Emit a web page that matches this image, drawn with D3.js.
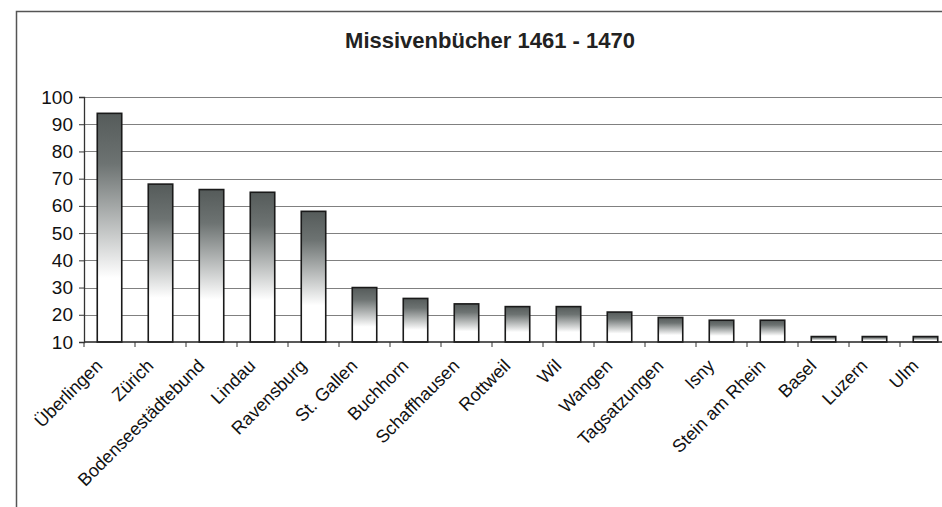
<!DOCTYPE html>
<html>
<head>
<meta charset="utf-8">
<script src="https://cdn.jsdelivr.net/npm/d3@7"></script>
<style>
  body { margin: 0; background: #fff; }
  svg { display: block; font-family: Arial, 'Liberation Sans', sans-serif; }
</style>
</head>
<body>
<svg id="chart" width="942" height="507"></svg>
<script>
const title = 'Missivenbücher 1461 - 1470';
const categories = ['Überlingen', 'Zürich', 'Bodenseestädtebund', 'Lindau', 'Ravensburg',
  'St. Gallen', 'Buchhorn', 'Schaffhausen', 'Rottweil', 'Wil', 'Wangen', 'Tagsatzungen',
  'Isny', 'Stein am Rhein', 'Basel', 'Luzern', 'Ulm'];
const values = [94, 68, 66, 65, 58, 30, 26, 24, 23, 23, 21, 19, 18, 18, 12, 12, 12];
const yTicks = [10, 20, 30, 40, 50, 60, 70, 80, 90, 100];

const width = 942, height = 507;
// the plot area runs a little past the right edge of the scan
const margin = { top: 97, right: -9, bottom: 165, left: 84 };

const svg = d3.select('#chart');

// frame of the scanned chart
svg.append('path')
  .attr('d', `M16.5,${height} V11.5 H${width}`)
  .attr('fill', 'none')
  .attr('stroke', '#555')
  .attr('stroke-width', 1.5);

svg.append('text')
  .attr('x', 490)
  .attr('y', 48)
  .attr('text-anchor', 'middle')
  .attr('font-size', '22px')
  .attr('font-weight', 'bold')
  .attr('fill', '#222')
  .text(title);

const x = d3.scaleBand()
  .domain(categories)
  .range([margin.left, width - margin.right])
  .paddingInner(0.52)
  .paddingOuter(0.26);

const y = d3.scaleLinear()
  .domain([10, 100])
  .range([height - margin.bottom, margin.top]);

const defs = svg.append('defs');
const grad = defs.append('linearGradient')
  .attr('id', 'barGrad')
  .attr('x1', 0).attr('y1', 0).attr('x2', 0).attr('y2', 1);
grad.append('stop').attr('offset', '0%').attr('stop-color', '#555b5a');
grad.append('stop').attr('offset', '22%').attr('stop-color', '#6d7372');
grad.append('stop').attr('offset', '72%').attr('stop-color', '#ffffff');
grad.append('stop').attr('offset', '100%').attr('stop-color', '#ffffff');

// gridlines
svg.append('g')
  .selectAll('line')
  .data(yTicks.slice(1))
  .join('line')
  .attr('x1', margin.left)
  .attr('x2', width)
  .attr('y1', (d) => Math.round(y(d)) + 0.5)
  .attr('y2', (d) => Math.round(y(d)) + 0.5)
  .attr('stroke', '#808080')
  .attr('stroke-width', 1.2);

// bars
svg.append('g')
  .selectAll('rect')
  .data(values)
  .join('rect')
  .attr('x', (d, i) => x(categories[i]))
  .attr('y', (d) => y(d))
  .attr('width', x.bandwidth())
  .attr('height', (d) => y(10) - y(d))
  .attr('fill', 'url(#barGrad)')
  .attr('stroke', '#1a1a1a')
  .attr('stroke-width', 1.6);

// y axis
const yAxis = (g) =>
  g
    .attr('transform', `translate(${margin.left},0)`)
    .call(d3.axisLeft(y).tickValues(yTicks).tickSize(5).tickPadding(6))
    .call((g) => g.select('.domain').attr('stroke', '#333').attr('stroke-width', 1.3))
    .call((g) => g.selectAll('.tick line').attr('stroke', '#333'))
    .call((g) => g.selectAll('.tick text')
      .attr('font-size', '19px')
      .attr('font-family', 'Arial, "Liberation Sans", sans-serif')
      .attr('fill', '#111'));

// x axis with ticks between categories
const step = x.step();
const boundaries = d3.range(categories.length + 1).map((i) => margin.left + i * step);

const xg = svg.append('g')
  .attr('transform', `translate(0,${y(10)})`);
xg.append('line')
  .attr('x1', margin.left).attr('x2', width)
  .attr('stroke', '#222').attr('stroke-width', 1.5);
xg.selectAll('.xt')
  .data(boundaries)
  .join('line')
  .attr('class', 'xt')
  .attr('x1', (d) => d).attr('x2', (d) => d)
  .attr('y1', 0).attr('y2', 5)
  .attr('stroke', '#333');
xg.selectAll('text')
  .data(categories)
  .join('text')
  .attr('transform', (d) => `translate(${x(d) + x.bandwidth() / 2 - 6},${25}) rotate(-45)`)
  .attr('text-anchor', 'end')
  .attr('font-size', '18px')
  .attr('fill', '#111')
  .text((d) => d);

svg.append('g').call(yAxis);
</script>
</body>
</html>
